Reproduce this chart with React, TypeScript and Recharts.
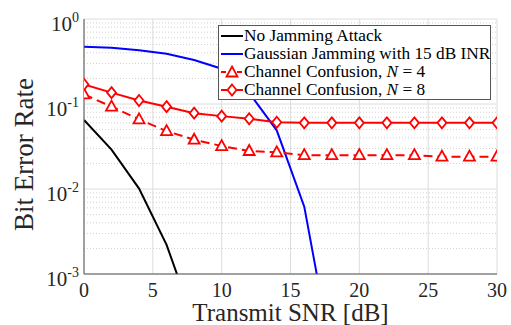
import React from "react";
import {
  LineChart,
  Line,
  XAxis,
  YAxis,
  CartesianGrid,
  ReferenceLine,
  Legend,
} from "recharts";

const snrNoJam = [0, 2, 4, 6, 8];
const berNoJam = [0.065, 0.029, 0.0101, 0.0022, 0.00027];

const snrGauss = [0, 2, 4, 6, 8, 10, 12, 14, 16, 18];
const berGauss = [0.47, 0.46, 0.43, 0.39, 0.33, 0.26, 0.135, 0.049, 0.0062, 0.00011];

const snrCC = [0, 2, 4, 6, 8, 10, 12, 14, 16, 18, 20, 22, 24, 26, 28, 30];
const berN4 = [0.13, 0.093, 0.066, 0.048, 0.038, 0.032, 0.028, 0.027, 0.025, 0.025, 0.025, 0.025, 0.025, 0.024, 0.024, 0.024];
const berN8 = [0.17, 0.136, 0.11, 0.093, 0.078, 0.072, 0.067, 0.061, 0.06, 0.06, 0.06, 0.06, 0.06, 0.06, 0.06, 0.06];

const xTicks = [0, 5, 10, 15, 20, 25, 30];
const yTicks = [0.001, 0.01, 0.1, 1];
const yMinor = [
  0.002, 0.003, 0.004, 0.005, 0.006, 0.007, 0.008, 0.009,
  0.02, 0.03, 0.04, 0.05, 0.06, 0.07, 0.08, 0.09,
  0.2, 0.3, 0.4, 0.5, 0.6, 0.7, 0.8, 0.9,
];
const yExp = ["-3", "-2", "-1", "0"];

const FONT = "'Liberation Serif', serif";
const RED = "#ff0000";

const toPts = (xs: number[], ys: number[]) => xs.map((x, i) => ({ x, y: ys[i] }));

const Triangle = (props: any) => {
  const { cx, cy } = props;
  if (cx == null || cy == null) return null;
  return (
    <path
      key={`t-${cx}`}
      d={`M${cx},${cy - 6} L${cx + 5.5},${cy + 4} L${cx - 5.5},${cy + 4} Z`}
      fill="#fff"
      stroke={RED}
      strokeWidth={1.8}
    />
  );
};

const Diamond = (props: any) => {
  const { cx, cy } = props;
  if (cx == null || cy == null) return null;
  return (
    <path
      key={`d-${cx}`}
      d={`M${cx},${cy - 5.5} L${cx + 4.5},${cy} L${cx},${cy + 5.5} L${cx - 4.5},${cy} Z`}
      fill="#fff"
      stroke={RED}
      strokeWidth={1.8}
    />
  );
};

const YTick = (props: any) => {
  const { x, y, payload, index } = props;
  const i = yTicks.indexOf(payload.value);
  return (
    <text key={index} x={x + 3} y={y + 12} textAnchor="end" fontFamily={FONT} fontSize={21} fill="#262626">
      10<tspan dy={-9} fontSize={14}>{yExp[i]}</tspan>
    </text>
  );
};

const legendRows = [
  { label: "No Jamming Attack", color: "#000", marker: null, dash: undefined },
  { label: "Gaussian Jamming with 15 dB INR", color: "#0000ff", marker: null, dash: undefined },
  { label: "Channel Confusion, ", n: "4", color: RED, marker: "tri", dash: "5 3" },
  { label: "Channel Confusion, ", n: "8", color: RED, marker: "dia", dash: undefined },
];

const LegendBox = () => (
  <div
    style={{
      border: "1px solid #555",
      background: "#fff",
      width: 273,
      height: 75,
      boxSizing: "border-box",
      paddingTop: 1,
      fontFamily: FONT,
      fontSize: 17.3,
      color: "#000",
    }}
  >
    {legendRows.map((r, i) => (
      <div key={i} style={{ display: "flex", alignItems: "center", height: 18, whiteSpace: "nowrap" }}>
        <svg width={25} height={18} style={{ flex: "none" }}>
          <line x1={2} y1={9} x2={24} y2={9} stroke={r.color} strokeWidth={2} strokeDasharray={r.dash} />
          {r.marker === "tri" && <Triangle cx={13} cy={9.5} />}
          {r.marker === "dia" && <Diamond cx={13} cy={9} />}
        </svg>
        <span>
          {r.label}
          {r.n && (
            <>
              <i>N</i> = {r.n}
            </>
          )}
        </span>
      </div>
    ))}
  </div>
);

export default function App() {
  return (
    <div style={{ position: "absolute", left: 0, top: 0, background: "#fff" }}>
      <LineChart width={511} height={325} margin={{ top: 19, right: 14, left: 24, bottom: 0 }}>
        <CartesianGrid stroke="#dcdcdc" strokeWidth={1} />
        {yMinor.map((v) => (
          <ReferenceLine key={v} y={v} stroke="#d0d0d0" strokeDasharray="1 2" />
        ))}
        <XAxis
          dataKey="x"
          type="number"
          domain={[0, 30]}
          ticks={xTicks}
          allowDataOverflow
          height={51}
          tickLine={false}
          axisLine={{ stroke: "#555" }}
          tick={{ fontFamily: FONT, fontSize: 20, fill: "#262626" }}
          tickMargin={3}
          label={{
            value: "Transmit SNR [dB]",
            position: "insideBottom",
            offset: 4,
            style: { fontFamily: FONT, fontSize: 25, fill: "#262626" },
          }}
        />
        <XAxis xAxisId="top" orientation="top" type="number" domain={[0, 30]} height={0} tick={false} tickLine={false} axisLine={{ stroke: "#555" }} />
        <YAxis
          dataKey="y"
          scale="log"
          domain={[0.001, 1]}
          ticks={yTicks}
          allowDataOverflow
          width={60}
          tickLine={false}
          axisLine={{ stroke: "#555" }}
          tick={<YTick />}
          label={{
            value: "Bit Error Rate",
            angle: -90,
            position: "insideLeft",
            dx: -6,
            dy: 8,
            style: { fontFamily: FONT, fontSize: 27, fill: "#262626", textAnchor: "middle" },
          }}
        />
        <YAxis yAxisId="right" orientation="right" scale="log" domain={[0.001, 1]} width={0} tick={false} tickLine={false} axisLine={{ stroke: "#555" }} />
        <Line data={toPts(snrNoJam, berNoJam)} dataKey="y" stroke="#000" strokeWidth={2} dot={false} isAnimationActive={false} />
        <Line data={toPts(snrGauss, berGauss)} dataKey="y" stroke="#0000ff" strokeWidth={2} dot={false} isAnimationActive={false} />
        <Line data={toPts(snrCC, berN4)} dataKey="y" stroke={RED} strokeWidth={2} strokeDasharray="9 5" dot={<Triangle />} isAnimationActive={false} />
        <Line data={toPts(snrCC, berN8)} dataKey="y" stroke={RED} strokeWidth={2} dot={<Diamond />} isAnimationActive={false} />
        <Legend
          layout="horizontal"
          verticalAlign="middle"
          align="center"
          content={<LegendBox />}
          wrapperStyle={{ left: 218, top: 25, width: "auto", height: "auto" }}
        />
      </LineChart>
    </div>
  );
}
